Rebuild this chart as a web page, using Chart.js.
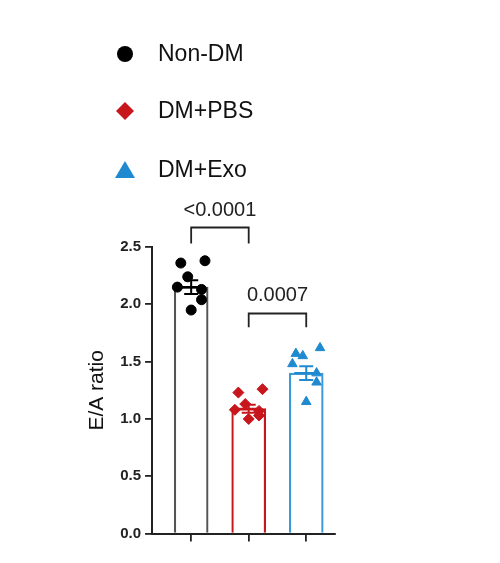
<!DOCTYPE html><html><head><script src="https://cdn.jsdelivr.net/npm/chart.js@4/dist/chart.umd.min.js"></script>
<style>body{margin:0;background:#fff}#w{width:500px;height:563px}</style></head><body><div id="w"><canvas id="c"></canvas></div>
<script>
const categories=["Non-DM","DM+PBS","DM+Exo"];
const means=[2.15,1.09,1.40];
const sems=[0.06,0.035,0.06];
const nonDM=[2.38,2.36,2.24,2.15,2.13,2.04,1.95];
const dmPBS=[1.26,1.23,1.13,1.08,1.07,1.03,1.00];
const dmExo=[1.62,1.57,1.55,1.48,1.40,1.32,1.15];
const jitter=[0.2,-0.15,-0.05,-0.2,0.15,0.15,0.0];
const yTicks=[0,0.5,1,1.5,2,2.5];
const pvals=["<0.0001","0.0007"];
const colors=["#000000","#c8161d","#1f8ad0"];
const borders=["#555555","#c8161d","#3a9ad8"];
const styles=["circle","rectRot","triangle"];
const groups=[nonDM,dmPBS,dmExo];
const pts=groups.map((g,i)=>({type:'scatter',data:g.map((v,k)=>({x:i+jitter[k]*1.2,y:v})),pointStyle:styles[i],backgroundColor:colors[i],borderColor:colors[i],pointRadius:i==0?5:5.5,order:0}));
const extra={id:'extra',afterDatasetsDraw(ch){const c=ch.ctx,x=ch.scales.x,y=ch.scales.y;c.save();
 means.forEach((m,i)=>{c.strokeStyle=colors[i];c.lineWidth=2;const px=x.getPixelForValue(i);const t=y.getPixelForValue(m+sems[i]),b=y.getPixelForValue(m-sems[i]),mm=y.getPixelForValue(m);
 c.beginPath();c.moveTo(px,t);c.lineTo(px,b);c.moveTo(px-7,t);c.lineTo(px+7,t);c.moveTo(px-7,b);c.lineTo(px+7,b);c.moveTo(px-12,mm);c.lineTo(px+12,mm);c.stroke();});
 c.strokeStyle='#222';c.lineWidth=1.8;c.fillStyle='#222';c.font='20px "Liberation Sans", Arial';c.textAlign='center';c.textBaseline='alphabetic';
 [[0,1,2.67,2.53,pvals[0]],[1,2,1.92,1.80,pvals[1]]].forEach(([a,b,top,leg,t])=>{const x1=x.getPixelForValue(a),x2=x.getPixelForValue(b),yt=y.getPixelForValue(top),yl=y.getPixelForValue(leg);
 c.beginPath();c.moveTo(x1,yl);c.lineTo(x1,yt);c.lineTo(x2,yt);c.lineTo(x2,yl);c.stroke();c.fillText(t,(x1+x2)/2,yt-12);});
 c.textAlign='left';c.textBaseline='middle';c.font='23px "Liberation Sans", Arial';
 const rows=[54,111,170];categories.forEach((n,i)=>{const cx=125,cy=rows[i];c.fillStyle=colors[i];c.beginPath();
 if(i==0){c.arc(cx,cy,8,0,Math.PI*2);}else if(i==1){c.moveTo(cx,cy-9);c.lineTo(cx+9,cy);c.lineTo(cx,cy+9);c.lineTo(cx-9,cy);c.closePath();}else{c.moveTo(cx,cy-9);c.lineTo(cx+10,cy+8);c.lineTo(cx-10,cy+8);c.closePath();}
 c.fill();c.fillStyle='#111';c.fillText(n,158,cy+1);});
 c.restore();}};
new Chart(document.getElementById('c'),{data:{datasets:[{type:'bar',data:means.map((m,i)=>({x:i,y:m})),backgroundColor:'#ffffff',borderColor:borders,borderWidth:2.2,barThickness:34,order:1},...pts]},
options:{responsive:true,maintainAspectRatio:false,animation:false,layout:{padding:{top:247,left:79,right:165,bottom:1}},
plugins:{legend:{display:false},tooltip:{enabled:false}},
scales:{x:{type:'linear',offset:false,min:-0.68,max:2.5,afterBuildTicks:s=>{s.ticks=[0,1,2].map(v=>({value:v}));},grid:{offset:false,drawOnChartArea:false,color:'#222',tickLength:8,lineWidth:1.8},border:{color:'#222',width:2},ticks:{callback:()=>''}},
y:{min:0,max:2.5,afterBuildTicks:s=>{s.ticks=yTicks.map(v=>({value:v}));},grid:{drawOnChartArea:false,color:'#222',tickLength:7,lineWidth:1.8},border:{color:'#222',width:2},
ticks:{color:'#222',font:{family:'"Liberation Sans", Arial',size:15,weight:'bold'},callback:v=>v.toFixed(1),padding:4},
title:{display:true,text:'E/A ratio',color:'#111',font:{family:'"Liberation Sans", Arial',size:21},padding:6}}}},plugins:[extra]});
</script></body></html>
